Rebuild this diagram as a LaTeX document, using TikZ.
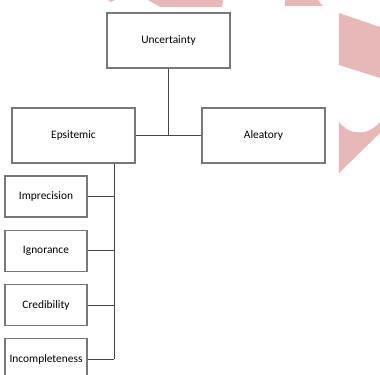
\documentclass[tikz,border=0pt]{standalone}
\usepackage{fontspec}
\setmainfont{Carlito}
\usepackage{xcolor}

\begin{document}
\begin{tikzpicture}[x=0.02cm, y=-0.02cm, every node/.style={font=\fontsize{6.5}{8}\selectfont}]
			% Define colors
			\definecolor{mark_bg}{RGB}{232, 184, 184}
			\definecolor{box_line}{RGB}{120, 120, 120}
			\definecolor{link_line}{RGB}{70, 70, 70}

			% Styles
			\tikzstyle{main_box} = [draw=box_line, line width=0.6pt, fill=white, minimum width=2.46cm, minimum height=1.1cm, align=center, inner sep=0pt]
			\tikzstyle{sub_box} = [draw=box_line, line width=0.6pt, fill=white, minimum width=1.64cm, minimum height=0.82cm, align=center, inner sep=0pt]
			\tikzstyle{link} = [draw=link_line, line width=0.6pt]

			% Page frame
			\useasboundingbox (0,0) rectangle (380,375);
			\clip (0,0) rectangle (380,375);

			% Background marks
			\fill[mark_bg] (108,0) -- (115,0) -- (111,2) -- cycle;
			\fill[mark_bg] (148,0) -- (223,0) -- (222,7) -- (160,7) -- cycle;
			\fill[mark_bg] (285,0) -- (318,0) -- (323,6) -- (285,6) -- cycle;
			\fill[mark_bg] (339,13) -- (380,27) -- (380,78) -- (339,65) -- cycle;
			\fill[mark_bg] (339,122) .. controls (350,136) and (368,136) .. (380,122) -- (380,133) -- (339,173) -- cycle;

			% Top level
			\node[main_box] (uncert) at (168.5, 40.5) {Uncertainty};

			% Second level
			\node[main_box] (epist) at (73.5, 135.5) {Epsitemic};
			\node[main_box] (aleat) at (263.5, 135.5) {Aleatory};

			% Epistemic kinds
			\node[sub_box] (imprec) at (46, 196.5) {Imprecision};
			\node[sub_box] (ignor) at (46, 250.8) {Ignorance};
			\node[sub_box] (cred) at (46, 305.1) {Credibility};
			\node[sub_box] (incompl) at (46, 359.4) {Incompleteness};

			% Links
			\coordinate (trunk) at (114.5, 163);
			\draw[link] (uncert.south) -- (uncert.south |- epist.east);
			\draw[link] (epist.east) -- (aleat.west);
			\draw[link] (epist.south -| trunk) -- (incompl.east -| trunk);
			\draw[link] (imprec.east) -- (imprec.east -| trunk);
			\draw[link] (ignor.east) -- (ignor.east -| trunk);
			\draw[link] (cred.east) -- (cred.east -| trunk);
			\draw[link] (incompl.east) -- (incompl.east -| trunk);

		\end{tikzpicture}
\end{document}
